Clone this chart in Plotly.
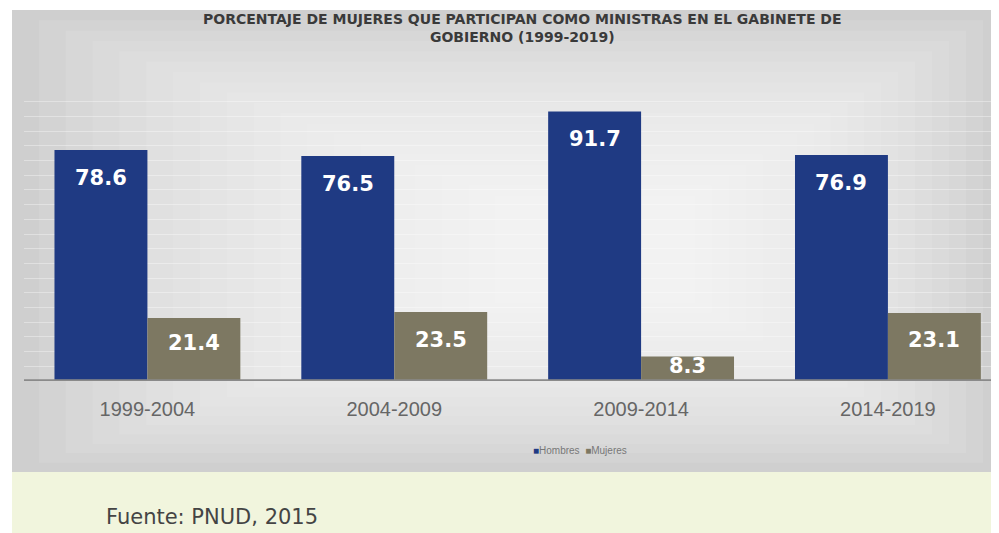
import plotly.graph_objects as go

categories = ["1999-2004", "2004-2009", "2009-2014", "2014-2019"]
hombres = [78.6, 76.5, 91.7, 76.9]
mujeres = [21.4, 23.5, 8.3, 23.1]
series_names = ["Hombres", "Mujeres"]
title_text = "PORCENTAJE DE MUJERES QUE PARTICIPAN COMO MINISTRAS EN EL GABINETE DE<br>GOBIERNO (1999-2019)"
source_text = "Fuente: PNUD, 2015"

C_H = "#1f3a83"
C_M = "#7d7862"

# page body has an 8px margin; work in page pixels and convert
OFF = 8
FW, FH = 999 - OFF, 533 - OFF
# plot area in page pixels: x 24..999, y 87..381
L, R, T, B = 24, 999, 87, 381
W, H = R - L, B - T


def dx(px):
    return (px - L) / W


def dy(py):
    return (B - py) / H


fig = go.Figure()
fig.add_trace(go.Bar(x=categories, y=hombres, name=series_names[0], marker_color=C_H,
                     marker_line_width=0, hoverinfo="x+y"))
fig.add_trace(go.Bar(x=categories, y=mujeres, name=series_names[1], marker_color=C_M,
                     marker_line_width=0, hoverinfo="x+y"))

shapes = []
gx0, gx1, gy0, gy1 = dx(12), dx(1000), dy(472), dy(10)
shapes.append(dict(type="rect", xref="paper", yref="paper", x0=gx0, x1=gx1, y0=gy0, y1=gy1,
                   fillcolor="#cfcfcf", line_width=0, layer="below"))
cx, cy = dx(600), dy(250)
steps = 18
for i in range(steps):
    f = (i + 1) / (steps + 1)
    x0 = gx0 + (cx - 0.08 - gx0) * f
    x1 = gx1 + (cx + 0.08 - gx1) * f
    y0 = gy0 + (cy - 0.15 - gy0) * f
    y1 = gy1 + (cy + 0.15 - gy1) * f
    shapes.append(dict(type="rect", xref="paper", yref="paper", x0=x0, x1=x1, y0=y0, y1=y1,
                       fillcolor="rgba(255,255,255,0.09)", line_width=0, layer="below"))
# pale green band
shapes.append(dict(type="rect", xref="paper", yref="paper", x0=gx0, x1=gx1, y0=dy(545), y1=gy0,
                   fillcolor="#f1f5dd", line_width=0, layer="below"))
# baseline
shapes.append(dict(type="line", xref="paper", yref="y", x0=0.0, x1=1.0, y0=0, y1=0,
                   line=dict(color="#8a8a8a", width=3.5), layer="above"))

annotations = []
px_per_unit = H / 100.0
for ci, cat in enumerate(categories):
    for si, (vals, xs) in enumerate([(hombres, -0.1885), (mujeres, 0.1885)]):
        v = vals[ci]
        shift = -min(28, v * px_per_unit * 0.4)
        annotations.append(dict(x=ci + xs, y=v, xref="x", yref="y", text="<b>%.1f</b>" % v,
                                showarrow=False, yshift=shift, yanchor="middle",
                                font=dict(family="DejaVu Sans", size=21, color="white")))

# title as annotation (multi-line positioning)
annotations.append(dict(x=dx(522), y=dy(28), xref="paper", yref="paper", xanchor="center",
                        yanchor="middle", text="<b>" + title_text + "</b>", showarrow=False,
                        align="center",
                        font=dict(family="DejaVu Sans", size=14, color="#3a3a3a")))

# legend as text
legend_text = ("<span style='color:%s'>■</span>%s  <span style='color:%s'>■</span>%s"
               % (C_H, series_names[0], C_M, series_names[1]))
annotations.append(dict(x=dx(580), y=dy(450), xref="paper", yref="paper", xanchor="center",
                        yanchor="middle", text=legend_text, showarrow=False,
                        font=dict(family="Liberation Sans Narrow, sans-serif", size=10, color="#777777")))

annotations.append(dict(x=dx(104), y=dy(517), xref="paper", yref="paper", xanchor="left", yanchor="middle",
                        text=source_text, showarrow=False,
                        font=dict(family="DejaVu Sans", size=21, color="#444444")))

fig.update_layout(
    width=FW, height=FH,
    margin=dict(l=L - OFF, r=999 - R, t=T - OFF, b=533 - B, autoexpand=False),
    paper_bgcolor="white",
    plot_bgcolor="rgba(0,0,0,0)",
    barmode="group",
    bargap=0.247,
    bargroupgap=0,
    xaxis=dict(type="category", range=[-0.5, 3.45], showgrid=False, showline=False, ticks="",
               tickfont=dict(family="Liberation Sans Narrow, sans-serif", size=20, color="#666666"),
               ticklabelstandoff=14),
    yaxis=dict(range=[0, 100], showgrid=True, gridcolor="rgba(255,255,255,0.35)", dtick=5,
               showticklabels=False, zeroline=False, showline=False),
    shapes=shapes,
    annotations=annotations,
    showlegend=False,
)

fig.write_html("out.html")
